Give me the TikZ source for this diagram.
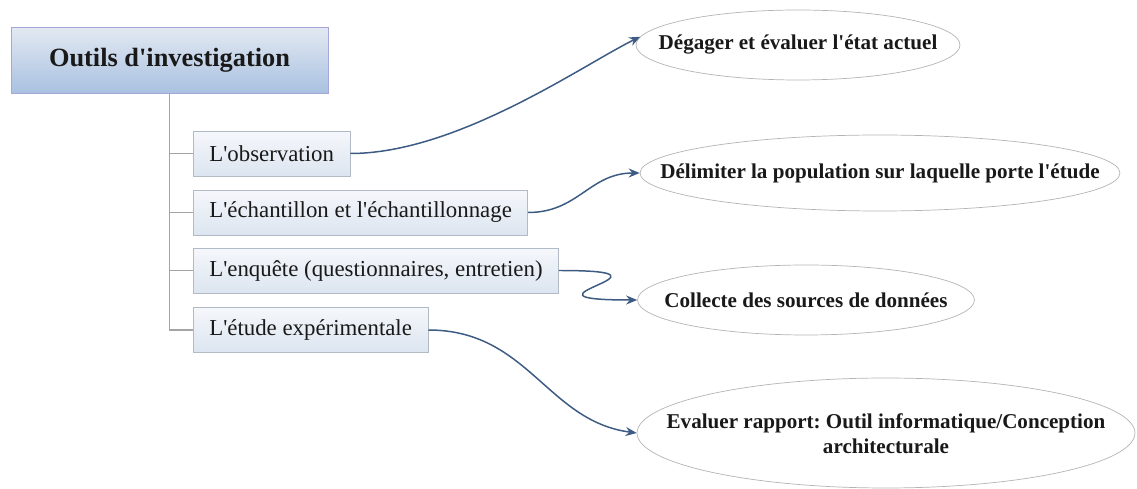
\documentclass[tikz,border=0pt]{standalone}
\usepackage{fontspec}
\setmainfont{Liberation Serif}
\frenchspacing
\usetikzlibrary{shapes.geometric,arrows.meta}
\definecolor{linkblue}{HTML}{3D5B83}
\definecolor{branchgray}{HTML}{A4A4A4}
\definecolor{boxline}{HTML}{B2BAC6}
\definecolor{ovalline}{HTML}{B4B4B4}
\definecolor{maintop}{HTML}{E3E9F2}
\definecolor{mainbottom}{HTML}{A9C1E1}
\definecolor{tooltop}{HTML}{F5F7FB}
\definecolor{toolbottom}{HTML}{DCE5F0}
\begin{document}
\begin{tikzpicture}[x=0.02cm, y=-0.02cm,
    tool/.style={draw=boxline, top color=tooltop, bottom color=toolbottom, anchor=west,
        minimum height=0.9cm, inner xsep=0.32cm, font=\fontsize{13}{15}\selectfont, text=black!90},
    aim/.style={ellipse, draw=ovalline, fill=white, inner sep=0pt,
        font=\fontsize{12}{14.5}\selectfont\bfseries, text=black!90},
    branch/.style={draw=branchgray, line width=0.7pt},
    link/.style={draw=linkblue, line width=0.85pt, -{Stealth[length=2.2mm, width=1.8mm]}}]
    \useasboundingbox (0,0) rectangle (1137,489);

    \node[draw=gray!60!blue!50, top color=maintop, bottom color=mainbottom, minimum width=6.34cm, minimum height=1.32cm,
        font=\fontsize{15}{18}\selectfont\bfseries, text=black!90] at (169.5,60)(main){Outils d\textquotesingle investigation};

    \node[tool] at (193,153.5)(obs){L\textquotesingle observation};
    \node[tool] at (193,212.5)(ech){L\textquotesingle échantillon et l\textquotesingle échantillonnage};
    \node[tool] at (193,270.5)(enq){L\textquotesingle enquête (questionnaires, entretien)};
    \node[tool] at (193,330)(exp){L\textquotesingle étude expérimentale};

    % text boxes of width 0 so that the ovals keep the given size
    \node[aim, minimum width=6.48cm, minimum height=1.4cm] at (798,45)(etat){\makebox[0pt]{Dégager et évaluer l\textquotesingle état actuel}};
    \node[aim, minimum width=9.6cm, minimum height=1.52cm] at (880,173)(popu){\makebox[0pt]{Délimiter la population sur laquelle porte l\textquotesingle étude}};
    \node[aim, minimum width=6.74cm, minimum height=1.4cm] at (806,300)(coll){\makebox[0pt]{Collecte des sources de données}};
    \node[aim, minimum width=9.96cm, minimum height=2.2cm] at (886,433)(eval){\makebox[0pt]{\raisebox{-0.16cm}[0pt][0pt]{\begin{tabular}{@{}c@{}}Evaluer rapport: Outil informatique/Conception\\ architecturale\end{tabular}}}};

    \draw[branch](main.south) |- (exp.west);
    \draw[branch](main.south |- obs.west) -- (obs.west);
    \draw[branch](main.south |- ech.west) -- (ech.west);
    \draw[branch](main.south |- enq.west) -- (enq.west);

    \draw[link](obs.east) .. controls +(107,0) and +(-57,28) .. (etat.177);
    \draw[link](ech.east) .. controls +(50,0) and +(-50,0) .. (popu.west);
    \draw[link](enq.east) .. controls +(140,0) and +(-140,0) .. (coll.west);
    \draw[link](exp.east) .. controls +(100,0) and +(-90,-12) .. (eval.west);
\end{tikzpicture}
\end{document}
